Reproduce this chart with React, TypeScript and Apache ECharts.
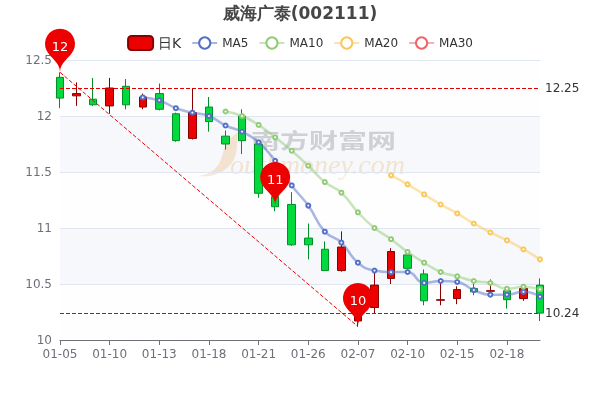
import React, { useEffect, useRef } from "react";
import * as echarts from "echarts";

const categories = ["01-05","01-06","01-07","01-10","01-11","01-12","01-13","01-14","01-17","01-18","01-19","01-20","01-21","01-24","01-25","01-26","01-27","01-28","02-07","02-08","02-09","02-10","02-11","02-14","02-15","02-16","02-17","02-18","02-21","02-22"];
// open, close, low, high
const candles = [
  [12.345,12.16,12.07,12.39],[12.18,12.2,12.09,12.3],[12.15,12.1,12.09,12.34],[12.09,12.25,12.02,12.34],[12.265,12.1,12.06,12.33],
  [12.08,12.17,12.06,12.2],[12.2,12.06,12.05,12.29],[12.02,11.78,11.77,12.03],[11.8,12.03,11.79,12.25],[12.08,11.95,11.86,12.17],
  [11.82,11.75,11.7,11.87],[12.0,11.78,11.66,12.06],[11.75,11.31,11.27,11.76],[11.28,11.19,11.15,11.3],[11.21,10.85,10.84,11.32],
  [10.91,10.85,10.72,11.04],[10.81,10.62,10.62,10.88],[10.62,10.83,10.61,10.97],[10.17,10.39,10.12,10.45],[10.29,10.49,10.24,10.6],
  [10.55,10.79,10.5,10.82],[10.76,10.64,10.64,10.79],[10.59,10.35,10.31,10.63],[10.355,10.36,10.31,10.51],[10.37,10.45,10.32,10.48],
  [10.46,10.43,10.4,10.5],[10.435,10.44,10.39,10.54],[10.44,10.36,10.28,10.45],[10.37,10.46,10.35,10.47],[10.49,10.24,10.17,10.55],
];
const ma5 = ["-","-","-","-","-",12.166,12.14,12.07,12.03,12.0,11.915,11.86,11.765,11.6,11.38,11.2,10.967,10.87,10.69,10.62,10.605,10.607,10.51,10.527,10.518,10.446,10.405,10.405,10.43,10.387];
const ma10 = ["-","-","-","-","-","-","-","-","-","-",12.04,12.0,11.92,11.81,11.69,11.556,11.41,11.315,11.14,11.0,10.9,10.786,10.69,10.607,10.568,10.527,10.509,10.458,10.476,10.453];
const ma20 = ["-","-","-","-","-","-","-","-","-","-","-","-","-","-","-","-","-","-","-","-",11.47,11.39,11.3,11.21,11.13,11.04,10.96,10.89,10.81,10.72];
const ma30: (number | string)[] = categories.map(() => "-");
const legendNames = ["日K", "MA5", "MA10", "MA20", "MA30"];
const pins = [
  { cat: "01-05", at: 12.39, label: 12 },
  { cat: "01-24", at: 11.2, label: 11 },
  { cat: "02-07", at: 10.12, label: 10 },
];
const levels = [12.25, 10.24];

const swoosh = "M0 38 C12 36 20 30 23 18 C26 7 30 0 39 -6 C37 6 40 16 32 26 C24 36 10 40 0 38 Z";
echarts.graphic.registerShape("swoosh", echarts.graphic.extendPath(swoosh as any, {}) as any);

const FONT = "DejaVu Sans";

const maSeries = (name: string, data: any[], color: string) => ({
  name,
  type: "line",
  data,
  smooth: true,
  symbol: "circle",
  symbolSize: 4,
  showAllSymbol: true,
  itemStyle: { color: "#fff", borderColor: color, borderWidth: 2 },
  lineStyle: { color, width: 2.5, opacity: 0.5 },
});

export default function App() {
  const ref = useRef<HTMLDivElement>(null);
  useEffect(() => {
    const chart = echarts.init(ref.current!, undefined, { renderer: "svg" });
    chart.setOption({
      animation: false,
      textStyle: { fontFamily: FONT },
      title: {
        text: "威海广泰(002111)",
        left: "center",
        top: -1,
        textStyle: { fontSize: 17, fontWeight: "bold", color: "#464646", fontFamily: FONT },
      },
      legend: {
        data: [
          { name: legendNames[0], textStyle: { fontSize: 14 } },
          { name: legendNames[1], itemStyle: { color: "#fff", borderColor: "#5470c6", borderWidth: 2 } },
          { name: legendNames[2], itemStyle: { color: "#fff", borderColor: "#91cc75", borderWidth: 2 } },
          { name: legendNames[3], itemStyle: { color: "#fff", borderColor: "#fac858", borderWidth: 2 } },
          { name: legendNames[4], itemStyle: { color: "#fff", borderColor: "#ee6666", borderWidth: 2 } },
        ],
        top: 30,
        left: "center",
        itemGap: 10,
        selectedMode: false,
        textStyle: { color: "#333", fontFamily: FONT },
      },
      grid: { left: 60, right: 60, top: 60, bottom: 60 },
      xAxis: {
        type: "category",
        data: categories,
        boundaryGap: false,
        axisLine: { lineStyle: { color: "#6E7079" } },
        axisTick: { interval: 2, alignWithLabel: true },
        axisLabel: { interval: 2, color: "#6E7079", fontSize: 12, fontFamily: FONT },
        splitLine: { show: false },
      },
      yAxis: {
        type: "value",
        min: 10,
        max: 12.5,
        interval: 0.5,
        axisLabel: { color: "#6E7079", fontSize: 12, fontFamily: FONT },
        splitLine: { show: true, lineStyle: { color: "#E0E6F1" } },
        splitArea: { show: true, areaStyle: { color: ["rgba(250,250,250,0.2)", "rgba(210,219,238,0.2)"] } },
      },
      graphic: [
        { type: "swoosh", x: 199, y: 138, style: { fill: "#fbe5c8" }, silent: true, z: 0 },
        {
          type: "text", x: 251, y: 128, scaleY: 0.72, silent: true, z: 0,
          style: { text: "南方财富网", fontSize: 29, fontWeight: "bold", fill: "#cdcdcd", fontFamily: "Noto Sans CJK SC" },
        },
        {
          type: "text", x: 230, y: 150, silent: true, z: 0,
          style: { text: "outhmoney.com", fontSize: 28, fontStyle: "italic", fill: "#fbe5c8", fontFamily: "Liberation Serif" },
        },
      ],
      series: [
        {
          name: legendNames[0],
          type: "candlestick",
          data: candles,
          barWidth: 8,
          itemStyle: { color: "#ec0000", color0: "#00da3c", borderColor: "#8A0000", borderColor0: "#008F28" },
          markPoint: {
            symbol: "pin",
            symbolSize: 50,
            label: { color: "#fff", fontSize: 13, fontFamily: FONT },
            itemStyle: { color: "#ec0000" },
            data: pins.map((p) => ({ coord: [p.cat, p.at], value: p.label })),
          },
          markLine: {
            symbol: "none",
            silent: true,
            label: { show: true, position: "end", color: "#333", fontSize: 12, fontFamily: FONT },
            lineStyle: { color: "#e00000", type: "dashed", width: 1 },
            data: [
              ...levels.map((v) => ({ yAxis: v })),
              [
                { coord: [pins[0].cat, pins[0].at], label: { show: false }, lineStyle: { color: "#ec0000", type: "dashed", width: 1 } },
                { coord: [pins[2].cat, pins[2].at] },
              ],
            ],
          },
        },
        maSeries(legendNames[1], ma5, "#5470c6"),
        maSeries(legendNames[2], ma10, "#91cc75"),
        maSeries(legendNames[3], ma20, "#fac858"),
        maSeries(legendNames[4], ma30, "#ee6666"),
      ],
    });
    return () => chart.dispose();
  }, []);
  return <div ref={ref} style={{ position: "fixed", left: 0, top: 0, width: 600, height: 400 }} />;
}
